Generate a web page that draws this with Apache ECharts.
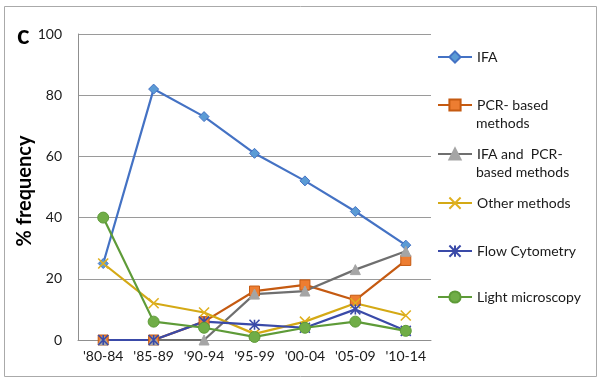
<!DOCTYPE html>
<html><head><meta charset="utf-8">
<script src="https://cdn.jsdelivr.net/npm/echarts@6/dist/echarts.min.js"></script>
<style>html,body{margin:0;padding:0;background:#fff}#c{width:602px;height:381px}</style>
</head><body><div id="c"></div>
<script>
var categories = ["'80-84","'85-89","'90-94","'95-99","'00-04","'05-09","'10-14"];
var ifa = [25, 82, 73, 61, 52, 42, 31];
var pcr = [0, 0, 6, 16, 18, 13, 26];
var ifaPcr = [0, 0, 0, 15, 16, 23, 29];
var other = [25, 12, 9, 2, 6, 12, 8];
var flow = [0, 0, 6, 5, 4, 10, 3];
var light = [40, 6, 4, 1, 4, 6, 3];
var seriesNames = ["IFA", "PCR- based methods", "IFA and  PCR-based methods", "Other methods", "Flow Cytometry", "Light microscopy"];
var legendFirst = ["IFA", "PCR- based", "IFA and  PCR-", "Other methods", "Flow Cytometry", "Light microscopy"];
var legendSecond = ["", "methods", "based methods", "", "", ""];
var yTicks = [0, 20, 40, 60, 80, 100];
var yAxisTitle = '% frequency';
var panelLabel = 'c';

var FONT = 'Lato';
var xPath = 'path://M0,0 L10,10 M10,0 L0,10';
var starPath = 'path://M0,0 L10,10 M10,0 L0,10 M5,0 L5,10';

var styles = [
  {line:'#4472C4', fill:'#5B9BD5', border:'#4472C4', symbol:'diamond', size:10},
  {line:'#C55A11', fill:'#ED7D31', border:'#C55A11', symbol:'rect', size:10},
  {line:'#6F6F6F', fill:'#A5A5A5', border:'#A5A5A5', symbol:'triangle', size:10},
  {line:'#D4A915', fill:'none', border:'#E0B020', symbol:xPath, size:10},
  {line:'#3A4AA8', fill:'none', border:'#3A4AA8', symbol:starPath, size:10},
  {line:'#5E9B38', fill:'#70AD47', border:'#5E9B38', symbol:'circle', size:11}
];
var datasets = [ifa, pcr, ifaPcr, other, flow, light];
var legendCenters = [57, 105, 154, 202, 250, 297];

var series = datasets.map(function(d, i){
  var s = styles[i];
  return {
    name: seriesNames[i], type: 'line', data: d,
    symbol: s.symbol, symbolSize: s.size, showSymbol: true,
    lineStyle: {color: s.line, width: 2.2},
    itemStyle: {color: s.fill, borderColor: s.border, borderWidth: (s.fill === 'none') ? 1.6 : 1},
    emphasis: {disabled: true},
    animation: false
  };
});

var legends = seriesNames.map(function(n, i){
  return {
    data: [n], left: 437, top: legendCenters[i] - 7, padding: 0,
    itemWidth: 34, itemHeight: 14, itemGap: 0,
    formatter: function(){ return legendFirst[i]; },
    textStyle: {fontFamily: FONT, fontSize: 14, color: '#1a1a1a'},
    selectedMode: false
  };
});

var graphics = [
  {type:'rect', shape:{x:4.5, y:6.5, width:592, height:370}, style:{fill:'none', stroke:'#aaaaaa', lineWidth:1}, silent:true},
  {type:'text', left: 17, top: 23, style:{text: panelLabel, font:'bold 26px ' + FONT, fill:'#000'}},
  {type:'text', x: 25, y: 191, rotation: Math.PI / 2,
   style:{text: yAxisTitle, font:'bold 20px ' + FONT, fill:'#000', align:'center', verticalAlign:'middle'}}
];
legendSecond.forEach(function(t, i){
  if (t) graphics.push({type:'text', left: 476, top: legendCenters[i] + 20 - 9, style:{text:t, font:'14px ' + FONT, fill:'#1a1a1a'}});
});

var chart = echarts.init(document.getElementById('c'), null, {renderer:'canvas'});
chart.setOption({
  animation: false,
  backgroundColor: '#fff',
  grid: {left: 78, right: 171, top: 34, bottom: 41, containLabel: false},
  legend: legends,
  xAxis: {
    type: 'category', data: categories, boundaryGap: true,
    axisLine: {lineStyle: {color: '#8f8f8f', width: 1}},
    axisTick: {show: false},
    axisLabel: {fontFamily: FONT, fontSize: 14, color: '#1a1a1a', margin: 9, interval: 0}
  },
  yAxis: {
    type: 'value', min: yTicks[0], max: yTicks[yTicks.length-1], interval: 20,
    axisLine: {show: true, lineStyle: {color: '#8f8f8f', width: 1}},
    axisTick: {show: false},
    splitLine: {lineStyle: {color: '#9a9a9a', width: 1}},
    axisLabel: {fontFamily: FONT, fontSize: 14, color: '#1a1a1a', margin: 16}
  },
  graphic: graphics,
  series: series
});
</script></body></html>
